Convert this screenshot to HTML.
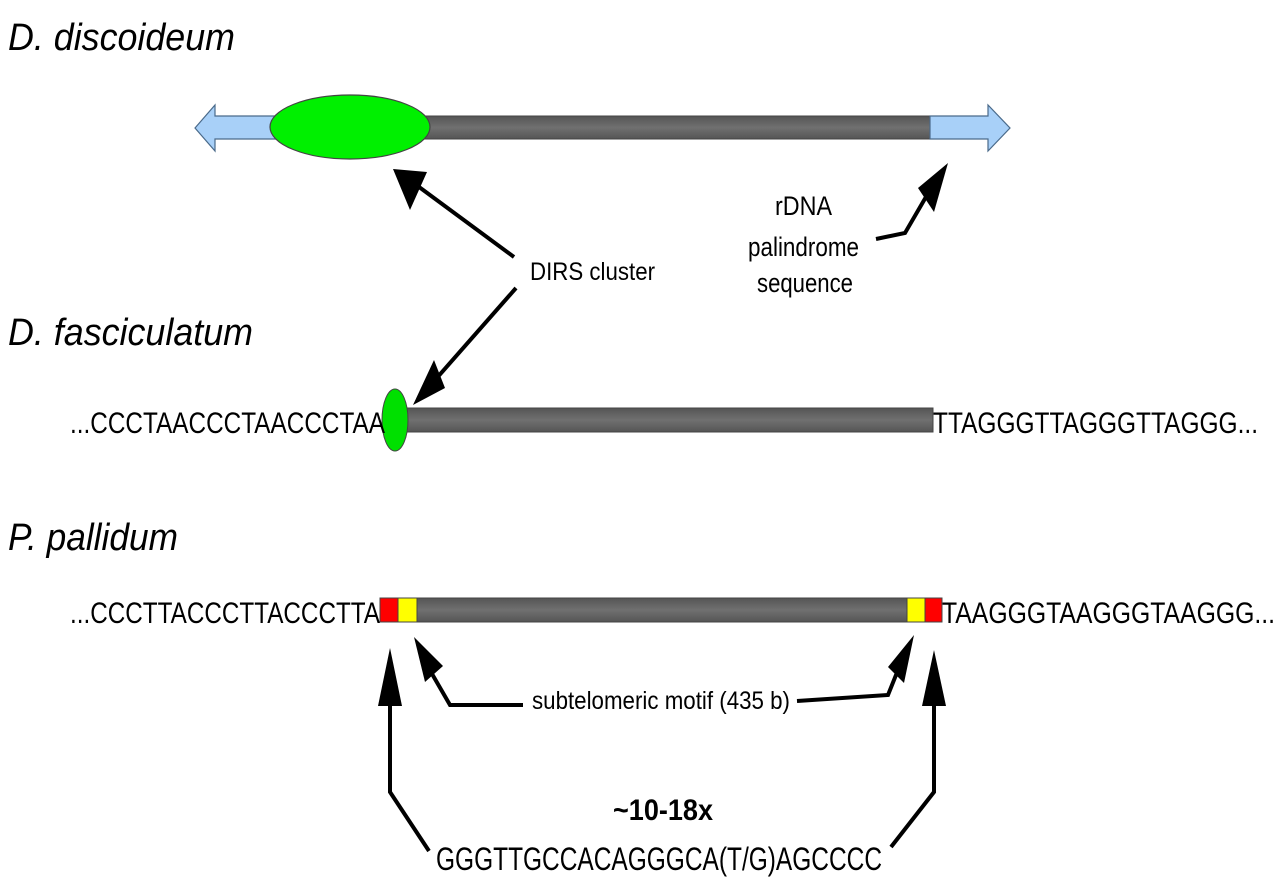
<!DOCTYPE html>
<html><head><meta charset="utf-8"><style>body{margin:0;background:#fff}svg{display:block}</style></head>
<body>
<svg width="1280" height="878" viewBox="0 0 1280 878" xmlns="http://www.w3.org/2000/svg" font-family="Liberation Sans, sans-serif">
<defs>
<linearGradient id="g" x1="0" y1="0" x2="0" y2="1"><stop offset="0" stop-color="#555"/><stop offset="0.5" stop-color="#707070"/><stop offset="1" stop-color="#555"/></linearGradient>
</defs>
<g font-style="italic" font-size="38" fill="#000">
<text x="8" y="50" textLength="227" lengthAdjust="spacingAndGlyphs">D. discoideum</text>
<text x="8" y="345" textLength="245" lengthAdjust="spacingAndGlyphs">D. fasciculatum</text>
<text x="8" y="550" textLength="170" lengthAdjust="spacingAndGlyphs">P. pallidum</text>
</g>
<path d="M195,128 L215,105 L215,116 L280,116 L280,139 L215,139 L215,151 Z" fill="#a8d0f8" stroke="#4a6a8a" stroke-width="1.2"/>
<rect x="420" y="116" width="512" height="23" fill="url(#g)" stroke="#444"/>
<path d="M930,116 L988,116 L988,105 L1010,128 L988,151 L988,139 L930,139 Z" fill="#a8d0f8" stroke="#4a6a8a" stroke-width="1.2"/>
<ellipse cx="350" cy="127" rx="80" ry="32" fill="#00f000" stroke="#444" stroke-width="1.2"/>
<rect x="388" y="408" width="545" height="24" fill="url(#g)" stroke="#444"/>
<ellipse cx="395" cy="420" rx="13" ry="31" fill="#00e000" stroke="#444"/>
<g font-size="30" fill="#000">
<text x="70" y="433" textLength="315" lengthAdjust="spacingAndGlyphs">...CCCTAACCCTAACCCTAA</text>
<text x="933" y="433" textLength="325" lengthAdjust="spacingAndGlyphs">TTAGGGTTAGGGTTAGGG...</text>
<text x="70" y="623" textLength="310" lengthAdjust="spacingAndGlyphs">...CCCTTACCCTTACCCTTA</text>
<text x="942" y="623" textLength="333" lengthAdjust="spacingAndGlyphs">TAAGGGTAAGGGTAAGGG...</text>
</g>
<rect x="380" y="598" width="562" height="24" fill="url(#g)" stroke="#444"/>
<rect x="380" y="598" width="18" height="24" fill="#f00" stroke="#444"/>
<rect x="398" y="598" width="19" height="24" fill="#ff0" stroke="#444"/>
<rect x="907" y="598" width="18" height="24" fill="#ff0" stroke="#444"/>
<rect x="925" y="598" width="17" height="24" fill="#f00" stroke="#444"/>
<g font-size="25" fill="#000">
<text x="530" y="280" textLength="125" lengthAdjust="spacingAndGlyphs">DIRS cluster</text>
<text x="532" y="709" textLength="258" lengthAdjust="spacingAndGlyphs">subtelomeric motif (435 b)</text>
</g>
<g font-size="27" fill="#000">
<text x="775" y="215" textLength="57" lengthAdjust="spacingAndGlyphs">rDNA</text>
<text x="748" y="256" textLength="111" lengthAdjust="spacingAndGlyphs">palindrome</text>
<text x="757" y="292" textLength="96" lengthAdjust="spacingAndGlyphs">sequence</text>
</g>
<text x="663" y="820" text-anchor="middle" font-size="30" font-weight="bold" textLength="100" lengthAdjust="spacingAndGlyphs">~10-18x</text>
<text x="436" y="870" font-size="32" textLength="446" lengthAdjust="spacingAndGlyphs">GGGTTGCCACAGGGCA(T/G)AGCCCC</text>
<g stroke="#000" stroke-width="4" fill="none">
<path d="M514,257 L415,184"/>
<path d="M516,288 L428,388"/>
<path d="M876,239 L905,233 L930,190"/>
<path d="M523,705 L450,705 L424,660"/>
<path d="M797,701 L888,695 L902,660"/>
<path d="M429,851 L390,792 L390,680"/>
<path d="M891,847 L934,792 L934,680"/>
</g>
<g fill="#000">
<polygon points="393,169 427,172 410,210"/>
<polygon points="413,405 434,360 445,388"/>
<polygon points="948,163 918,188 934,212"/>
<polygon points="414,637 443,666 425,682"/>
<polygon points="914,635 904,683 888,667"/>
<polygon points="390,648 378,706 402,706"/>
<polygon points="934,650 922,706 946,706"/>
</g>
</svg>
</body></html>
